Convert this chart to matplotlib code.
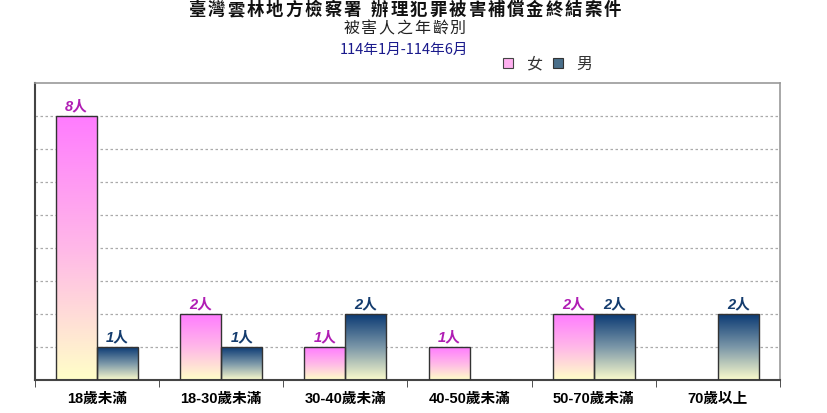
import numpy as np
import matplotlib
matplotlib.use("Agg")
import matplotlib.pyplot as plt
from matplotlib.colors import LinearSegmentedColormap

plt.rcParams['font.family'] = ['Noto Sans CJK TC', 'DejaVu Sans']

categories = ["18歲未滿", "18-30歲未滿", "30-40歲未滿", "40-50歲未滿", "50-70歲未滿", "70歲以上"]
female = [8, 2, 1, 1, 2, 0]
male = [1, 1, 2, 0, 2, 2]
series_names = ["女", "男"]
title = "臺灣雲林地方檢察署 辦理犯罪被害補償金終結案件"
subtitle = "被害人之年齡別"
period = "114年1月-114年6月"

MIX = ['Liberation Sans', 'Noto Sans CJK TC']

fig = plt.figure(figsize=(8.28, 4.14), dpi=100)
W, H = 828, 414
ax = fig.add_axes([35 / W, 1 - 381 / H, (780 - 35) / W, (381 - 84) / H])

cmap_f = LinearSegmentedColormap.from_list("f", ["#ffffc8", "#ffb8e8", "#ff7cff"])
cmap_m = LinearSegmentedColormap.from_list("m", ["#fbfbcc", "#7b97a8", "#0b3a74"])

x = np.arange(len(categories))
bw = 0.33
grad = np.linspace(0, 1, 256).reshape(-1, 1)

def draw(values, offset, cmap, lblcolor):
    bars = ax.bar(x + offset, values, bw, facecolor="none", edgecolor="#333333",
                  linewidth=1.0, zorder=3)
    for b, v in zip(bars, values):
        if v <= 0:
            continue
        x0, w, h = b.get_x(), b.get_width(), b.get_height()
        im = ax.imshow(grad, cmap=cmap, origin="lower", aspect="auto",
                       extent=[x0, x0 + w, 0, h], zorder=2, interpolation="bicubic")
        im.set_clip_path(b)
        ax.text(x0 + w / 2, h + 0.1, f"{v}人", ha="center", va="bottom",
                color=lblcolor, fontsize=10.5, fontweight="bold", style="italic",
                family=MIX, zorder=4)

draw(female, -bw / 2, cmap_f, "#b01eb4")
draw(male, bw / 2, cmap_m, "#143c6e")

ax.set_xlim(-0.5, len(categories) - 0.5)
ax.set_ylim(0, 9)
ax.set_yticks(range(1, 9))
ax.yaxis.grid(True, linestyle=(0, (2, 2)), color="#aaaaaa", linewidth=0.9)
ax.set_axisbelow(True)
ax.tick_params(axis="y", length=0, labelleft=False)
ax.set_xticks(x)
ax.set_xticklabels(categories, fontsize=10.5, fontweight="bold", family=MIX)
ax.tick_params(axis="x", length=0, pad=8)
ax.set_xticks(np.arange(-0.5, len(categories) + 0.5, 1), minor=True)
ax.tick_params(axis="x", which="minor", length=5, direction="out", color="#333333")

for s in ["left", "bottom"]:
    ax.spines[s].set_color("#444444")
    ax.spines[s].set_linewidth(1.5)
for s in ["top", "right"]:
    ax.spines[s].set_color("#999999")
    ax.spines[s].set_linewidth(1.2)


def spaced(text, x0, pitch, y, space_w, **kw):
    cx = x0
    for ch in text:
        if ch == " ":
            cx += space_w
            continue
        fig.text(cx / W, 1 - y / H, ch, ha="center", va="center", **kw)
        cx += pitch


spaced(title, 197, 19.4, 10, 8, fontsize=12.5, fontweight="bold", color="#111111")
spaced(subtitle, 351, 17.8, 28, 0, fontsize=11.5, color="#222222")
fig.text(404 / W, 1 - 50 / H, period, ha="center", va="center", fontsize=10.5, color="#1a1a8c")

# legend
lx = 508
fig.patches.append(plt.Rectangle(((lx - 5) / W, 1 - 69 / H), 10 / W, 10 / H,
                                 transform=fig.transFigure, facecolor="#ffb0f0",
                                 edgecolor="#444444", linewidth=0.8))
fig.text(535 / W, 1 - 64 / H, series_names[0], ha="center", va="center", fontsize=11.5, color="#333333")
lx2 = 558
fig.patches.append(plt.Rectangle(((lx2 - 5) / W, 1 - 69 / H), 10 / W, 10 / H,
                                 transform=fig.transFigure, facecolor="#4a6f8a",
                                 edgecolor="#333333", linewidth=0.8))
fig.text(584 / W, 1 - 64 / H, series_names[1], ha="center", va="center", fontsize=11.5, color="#333333")

fig.savefig("out.png", dpi=100)
